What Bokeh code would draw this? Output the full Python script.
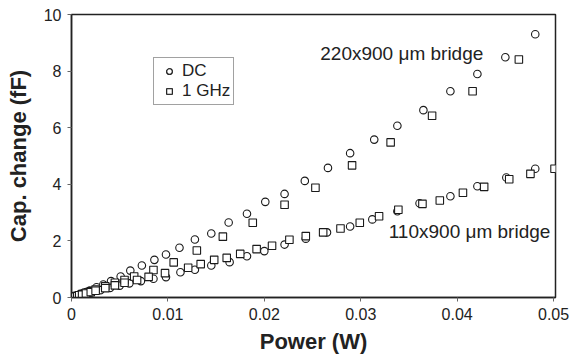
from bokeh.plotting import figure
from bokeh.models import Range1d, FixedTicker, Legend, LegendItem, Label
from bokeh.embed import file_html
from bokeh.resources import INLINE

# 220x900 um bridge
dc_wide_x = [0.0001, 0.0002, 0.0004, 0.0005, 0.0008, 0.0010, 0.0012, 0.0015, 0.0019, 0.0026,
             0.0033, 0.0041, 0.0051, 0.0061,
             0.0073, 0.0086, 0.0098, 0.0112, 0.0128, 0.0145, 0.0163, 0.0182, 0.0201, 0.0221,
             0.0242, 0.0266, 0.0289, 0.0314, 0.0338, 0.0365, 0.0393, 0.0421, 0.0450, 0.0481]
dc_wide_y = [0.02, 0.03, 0.05, 0.06, 0.10, 0.13, 0.15, 0.19, 0.25, 0.36,
             0.46, 0.58, 0.74, 0.95,
             1.13, 1.33, 1.52, 1.76, 2.05, 2.26, 2.65, 2.96, 3.38, 3.66,
             4.12, 4.58, 5.10, 5.58, 6.07, 6.62, 7.29, 7.90, 8.49, 9.30]
rf_wide_x = [0.0001, 0.0002, 0.0003, 0.0005, 0.0008, 0.0011, 0.0015, 0.0020, 0.0025, 0.0035,
             0.0045, 0.0055, 0.0065, 0.0085, 0.0106,
             0.0130, 0.0157, 0.0188, 0.0221, 0.0253, 0.0291, 0.0331, 0.0374, 0.0416, 0.0464]
rf_wide_y = [0.01, 0.02, 0.03, 0.05, 0.08, 0.12, 0.17, 0.22, 0.28, 0.40,
             0.52, 0.62, 0.74, 0.97, 1.24,
             1.66, 2.15, 2.64, 3.28, 3.88, 4.67, 5.48, 6.42, 7.29, 8.41]

# 110x900 um bridge
dc_narrow_x = [0.0001, 0.0003, 0.0005, 0.0008, 0.0012, 0.0016, 0.0020, 0.0030, 0.0040, 0.0050,
               0.0060, 0.0072, 0.0085, 0.0098,
               0.0113, 0.0128, 0.0145, 0.0164, 0.0182, 0.0200, 0.0221, 0.0243, 0.0265, 0.0289,
               0.0312, 0.0338, 0.0361, 0.0393, 0.0421, 0.0451, 0.0481]
dc_narrow_y = [0.01, 0.02, 0.04, 0.07, 0.10, 0.13, 0.17, 0.26, 0.34, 0.42,
               0.50, 0.58, 0.66, 0.72,
               0.89, 0.98, 1.13, 1.25, 1.46, 1.64, 1.87, 2.08, 2.30, 2.51,
               2.76, 3.05, 3.33, 3.58, 3.93, 4.24, 4.55]
rf_narrow_x = [0.0001, 0.0002, 0.0003, 0.0006, 0.0008, 0.0011, 0.0015, 0.0020, 0.0025, 0.0035,
               0.0045, 0.0055, 0.0068, 0.0080, 0.0097,
               0.0121, 0.0134, 0.0148, 0.0161, 0.0175, 0.0192, 0.0208, 0.0226, 0.0243, 0.0261,
               0.0279, 0.0299, 0.0319, 0.0339, 0.0364, 0.0382, 0.0406, 0.0428, 0.0454, 0.0476,
               0.0501]
rf_narrow_y = [0.01, 0.02, 0.03, 0.05, 0.08, 0.10, 0.14, 0.19, 0.24, 0.33,
               0.43, 0.52, 0.62, 0.73, 0.86,
               1.05, 1.18, 1.33, 1.40, 1.54, 1.71, 1.83, 2.04, 2.17, 2.30,
               2.44, 2.64, 2.87, 3.10, 3.31, 3.43, 3.70, 3.91, 4.18, 4.37,
               4.55]

x_ticks = [0, 0.01, 0.02, 0.03, 0.04, 0.05]
x_tick_labels = ["0", "0.01", "0.02", "0.03", "0.04", "0.05"]
y_ticks = [0, 2, 4, 6, 8, 10]
y_tick_labels = ["0", "2", "4", "6", "8", "10"]

FONT = "Liberation Sans"

p = figure(width=579, height=359, output_backend="svg", toolbar_location=None,
           x_range=Range1d(0, 0.0502), y_range=Range1d(0, 10),
           min_border_left=71, min_border_right=24, min_border_top=14, min_border_bottom=62)
p.background_fill_color = "white"
p.border_fill_color = "white"
p.outline_line_color = "#222222"
p.outline_line_width = 1.5
p.xgrid.visible = False
p.ygrid.visible = False

for ax, ticks, labels in ((p.xaxis[0], x_ticks, x_tick_labels), (p.yaxis[0], y_ticks, y_tick_labels)):
    ax.ticker = FixedTicker(ticks=ticks)
    ax.major_label_overrides = {t: l for t, l in zip(ticks, labels)}
    ax.minor_tick_line_color = None
    ax.major_tick_out = 4
    ax.major_tick_in = 0
    ax.axis_line_color = "#222222"
    ax.axis_line_width = 1.5
    ax.major_tick_line_color = "#666666"
    ax.major_label_text_font = FONT
    ax.major_label_text_font_size = "16px"
    ax.major_label_text_color = "#222222"
    ax.axis_label_text_font = FONT
    ax.axis_label_text_font_style = "bold"
    ax.axis_label_text_color = "#222222"

p.xaxis.axis_label = "Power (W)"
p.xaxis.axis_label_text_font_size = "22px"
p.xaxis.major_label_standoff = 6
p.xaxis.axis_label_standoff = 6
p.yaxis.axis_label = "Cap. change (fF)"
p.yaxis.axis_label_text_font_size = "22px"
p.yaxis.major_label_standoff = 6
p.yaxis.axis_label_standoff = 10

style = dict(size=7.5, line_color="#1a1a1a", line_width=1.1, fill_color="white")
c1 = p.scatter(dc_wide_x, dc_wide_y, marker="circle", **style)
c2 = p.scatter(dc_narrow_x, dc_narrow_y, marker="circle", **style)
s1 = p.scatter(rf_wide_x, rf_wide_y, marker="square", **style)
s2 = p.scatter(rf_narrow_x, rf_narrow_y, marker="square", **style)

legend = Legend(items=[LegendItem(label="DC", renderers=[c1, c2]),
                       LegendItem(label="1 GHz", renderers=[s1, s2])],
                location=(82, 192), orientation="vertical",
                label_text_font=FONT, label_text_font_size="17px",
                label_text_color="#222222",
                label_height=14, glyph_height=14, glyph_width=24, spacing=0,
                padding=3, margin=0, label_standoff=1,
                border_line_color="#444444", border_line_width=1,
                background_fill_color="white")
p.add_layout(legend, "center")

for txt, x, y in (("220x900 \u03bcm bridge", 0.0258, 8.61), ("110x900 \u03bcm bridge", 0.0329, 2.33)):
    p.add_layout(Label(x=x, y=y, text=txt, text_font=FONT, text_font_size="19px",
                       text_color="#222222", text_baseline="middle", text_align="left"))

open("out.html", "w").write(file_html(p, INLINE))
